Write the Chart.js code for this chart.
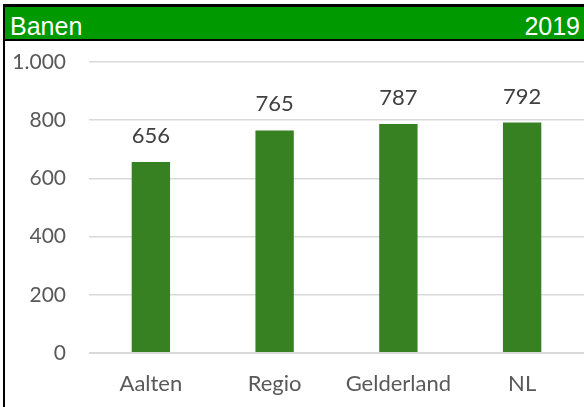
<!DOCTYPE html>
<html>
<head>
<meta charset="utf-8">
<script src="https://cdn.jsdelivr.net/npm/chart.js@4/dist/chart.umd.min.js"></script>
<style>
  html, body { margin: 0; padding: 0; background: #fff; overflow: hidden; }
  #frame {
    position: absolute; left: 3px; top: 4px; width: 600px; height: 420px;
    border-left: 2px solid #000; border-top: 3px solid #000;
  }
  #header {
    position: absolute; left: 0; top: 0; width: 579px; height: 32px;
    background: #009900; border-bottom: 2px solid #000;
    font-family: "Liberation Sans", Arial, sans-serif; font-size: 25px; color: #fff;
    line-height: 29px;
  }
  #header .l { position: absolute; left: 5px; top: 5px; }
  #header .r { position: absolute; right: 4px; top: 5px; }
  #wrap { position: absolute; left: 0; top: 34px; width: 579px; height: 366px; }
</style>
</head>
<body>
<div id="frame">
  <div id="header"><span class="l">Banen</span><span class="r">2019</span></div>
  <div id="wrap"><canvas id="chart" width="579" height="366"></canvas></div>
</div>
<script>
const categories = ['Aalten', 'Regio', 'Gelderland', 'NL'];
const values = [656, 765, 787, 792];
const yTicks = [0, 200, 400, 600, 800, 1000];

function nlFormat(v) {
  return String(v).replace(/\B(?=(\d{3})+(?!\d))/g, '.');
}

// nullijn over de staven + waarden boven de staven
const valueLabels = {
  id: 'valueLabels',
  afterDatasetsDraw(chart) {
    const ctx = chart.ctx;
    const meta = chart.getDatasetMeta(0);
    const area = chart.chartArea;
    const y0 = chart.scales.y.getPixelForValue(0);
    ctx.save();
    ctx.strokeStyle = 'rgba(217,217,217,0.6)';
    ctx.lineWidth = 2;
    ctx.beginPath();
    ctx.moveTo(area.left, y0);
    ctx.lineTo(area.right, y0);
    ctx.stroke();

    ctx.font = '22px Lato, sans-serif';
    ctx.fillStyle = '#404040';
    ctx.textAlign = 'center';
    ctx.textBaseline = 'middle';
    meta.data.forEach((bar, i) => {
      ctx.fillText(nlFormat(values[i]), bar.x, bar.y - 26);
    });
    ctx.restore();
  }
};

new Chart(document.getElementById('chart').getContext('2d'), {
  type: 'bar',
  data: {
    labels: categories,
    datasets: [{
      data: values,
      backgroundColor: '#378123',
      borderWidth: 0,
      barPercentage: 0.31,
      categoryPercentage: 1
    }]
  },
  options: {
    responsive: false,
    animation: false,
    layout: { autoPadding: false, padding: { top: 21, right: 0, bottom: 0, left: 0 } },
    plugins: { legend: { display: false }, tooltip: { enabled: false } },
    scales: {
      x: {
        grid: { display: false, drawTicks: false },
        border: { display: false },
        ticks: { color: '#595959', font: { family: 'Lato', size: 22 }, padding: 18 },
        afterFit(scale) {
          scale.height = 54;
          scale.paddingLeft = 0;
          scale.paddingRight = 0;
        }
      },
      y: {
        min: 0,
        max: 1000,
        afterBuildTicks(scale) { scale.ticks = yTicks.map(v => ({ value: v })); },
        grid: {
          color: '#d9d9d9',
          lineWidth: ctx => (ctx.tick && ctx.tick.value === 0 ? 2 : 1.5),
          drawTicks: false
        },
        border: { display: false },
        ticks: {
          color: '#595959',
          font: { family: 'Lato', size: 21 },
          padding: 23,
          callback: v => nlFormat(v)
        },
        afterFit(scale) {
          scale.width = 84;
          scale.paddingTop = 0;
          scale.paddingBottom = 0;
        }
      }
    }
  },
  plugins: [valueLabels]
});
</script>
</body>
</html>
